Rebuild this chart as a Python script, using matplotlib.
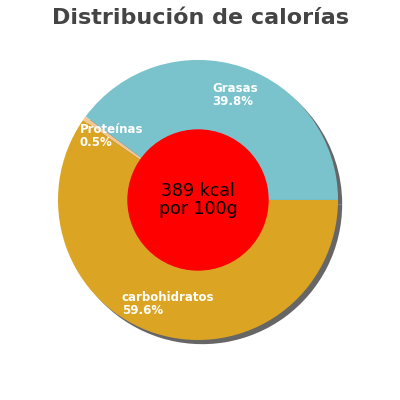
import matplotlib.pyplot as plt
import matplotlib.patheffects as pe

labels = ['Grasas', 'Proteínas', 'carbohidratos']
values = [39.8, 0.5, 59.6]
colors = ['#7ac3cd', '#f3c792', '#dba523']
explode = [0.07, 0.07, 0.0]

fig = plt.figure(figsize=(4, 4), dpi=100)
ax = fig.add_axes([0, 0, 1, 1])

wedges, _ = ax.pie(values, colors=colors, explode=explode, startangle=0,
                   radius=140, center=(0, 0), shadow=False,
                   wedgeprops=dict(linewidth=0))
# shadow
for w in wedges:
    w.set_path_effects([pe.SimplePatchShadow(offset=(3, -3), shadow_rgbFace='#666666', alpha=1), pe.Normal()])

ax.set_xlim(-198, 202)
ax.set_ylim(-200, 200)
ax.set_aspect('equal')
ax.axis('off')

ax.add_patch(plt.Circle((0, 0), 70, color='#ff0000', zorder=5))
ax.text(0, 0, '389 kcal\npor 100g', ha='center', va='center', fontsize=12.5, zorder=6,
        linespacing=1.0)

ax.text(14, 105, 'Grasas\n39.8%', color='white', fontsize=8.5, fontweight='bold',
        ha='left', va='center', linespacing=1.0)
ax.text(-118, 64, 'Proteínas\n0.5%', color='white', fontsize=8.5, fontweight='bold',
        ha='left', va='center', linespacing=1.0)
ax.text(-76, -104, 'carbohidratos\n59.6%', color='white', fontsize=8.5, fontweight='bold',
        ha='left', va='center', linespacing=1.0)

fig.text(0.5, 0.955, 'Distribución de calorías', ha='center', va='center',
         fontsize=16, fontweight='bold', color='#444444')
fig.savefig('out.png', dpi=100)
